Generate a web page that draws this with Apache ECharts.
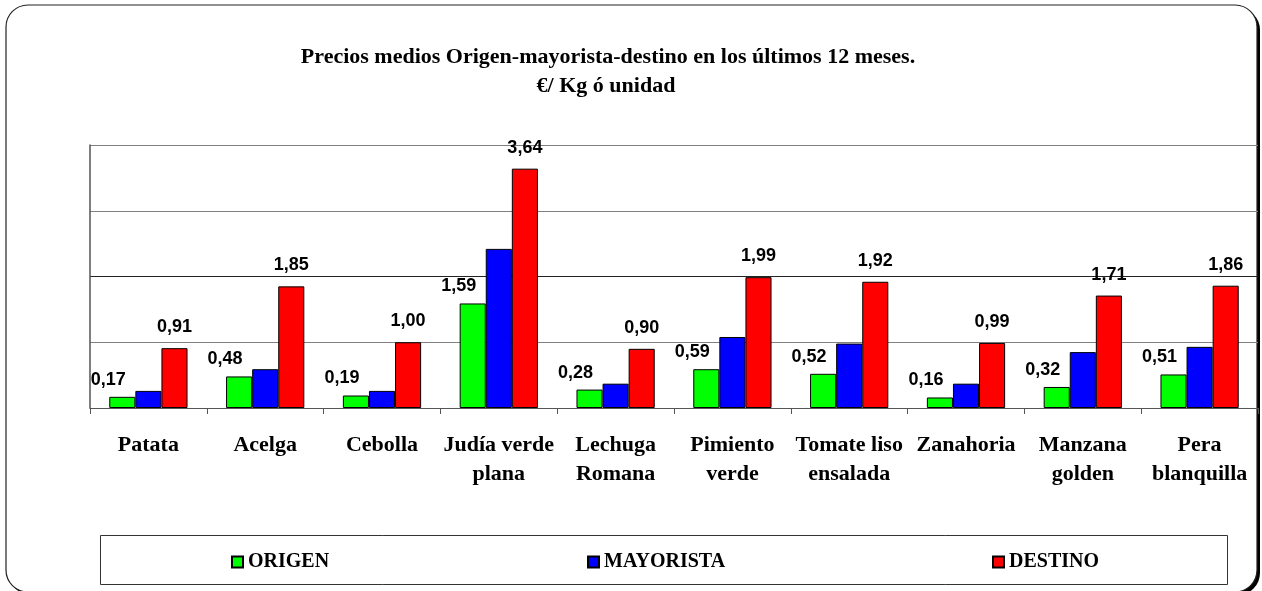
<!DOCTYPE html>
<html>
<head>
<meta charset="utf-8">
<script src="https://cdn.jsdelivr.net/npm/echarts@6/dist/echarts.min.js"></script>
<style>
  html, body { margin: 0; padding: 0; background: #fff; }
  #chart { width: 1262px; height: 591px; }
</style>
</head>
<body>
<div id="chart"></div>
<script>
// Average prices (€/kg or unit) over the last 12 months
const categories = [
  'Patata', 'Acelga', 'Cebolla', 'Judía verde\nplana', 'Lechuga\nRomana',
  'Pimiento\nverde', 'Tomate liso\nensalada', 'Zanahoria', 'Manzana\ngolden', 'Pera\nblanquilla'
];
const origen    = [0.17, 0.48, 0.19, 1.59, 0.28, 0.59, 0.52, 0.16, 0.32, 0.51];
const mayorista = [0.26, 0.59, 0.26, 2.42, 0.37, 1.08, 0.98, 0.37, 0.85, 0.93];
const destino   = [0.91, 1.85, 1.00, 3.64, 0.90, 1.99, 1.92, 0.99, 1.71, 1.86];
const seriesNames = ['ORIGEN', 'MAYORISTA', 'DESTINO'];
const titleLines = [
  'Precios medios Origen-mayorista-destino en los últimos 12 meses.',
  '€/ Kg ó unidad'
];

const serif = "'Liberation Serif', 'Times New Roman', serif";
const sans = "'Liberation Sans', Arial, sans-serif";
const fmt = p => p.value.toFixed(2).replace('.', ',');

const legendText = { fontFamily: serif, fontWeight: 'bold', fontSize: 20, color: '#000' };
const legendAt = (name, left) => ({
  data: [name], left: left, top: 547,
  itemWidth: 11, itemHeight: 11, icon: 'rect',
  textStyle: legendText
});

const chart = echarts.init(document.getElementById('chart'), null, { renderer: 'canvas' });

chart.setOption({
  backgroundColor: '#fff',
  animation: false,
  graphic: [
    // outer rounded frame with a hard drop shadow
    {
      type: 'rect', z: -12, silent: true,
      shape: { x: 9, y: 8, width: 1251, height: 587, r: 22 },
      style: { fill: '#000' }
    },
    {
      type: 'rect', z: -11, silent: true,
      shape: { x: 6, y: 5, width: 1251, height: 587, r: 22 },
      style: { fill: '#fff', stroke: '#222', lineWidth: 1.2 }
    },
    // legend box
    {
      type: 'rect', z: -5, silent: true,
      shape: { x: 100.5, y: 535.5, width: 1127, height: 49 },
      style: { fill: '#fff', stroke: '#333', lineWidth: 1 }
    },
    {
      type: 'text', silent: true,
      style: { text: titleLines[0], x: 608, y: 57, textAlign: 'center', textVerticalAlign: 'middle',
               font: 'bold 22px ' + serif, fill: '#000' }
    },
    {
      type: 'text', silent: true,
      style: { text: titleLines[1], x: 606, y: 86, textAlign: 'center', textVerticalAlign: 'middle',
               font: 'bold 22px ' + serif, fill: '#000' }
    }
  ],
  legend: [
    legendAt(seriesNames[0], 226),
    legendAt(seriesNames[1], 582),
    legendAt(seriesNames[2], 987)
  ],
  grid: { left: 90, right: 4, top: 145, bottom: 183, containLabel: false },
  xAxis: {
    type: 'category',
    data: categories,
    axisLine: { lineStyle: { color: '#555', width: 1 } },
    axisTick: { show: true, length: 6, lineStyle: { color: '#555' } },
    axisLabel: {
      interval: 0, margin: 23,
      fontFamily: serif, fontWeight: 'bold', fontSize: 22, lineHeight: 29, color: '#000'
    }
  },
  yAxis: {
    type: 'value',
    min: 0, max: 4, interval: 1,
    axisLabel: { show: false },
    axisTick: { show: false },
    axisLine: { show: true, lineStyle: { color: '#555', width: 1.5 } },
    splitLine: { lineStyle: { color: ['#808080', '#808080', '#222', '#808080', '#808080'], width: 1 } }
  },
  series: [
    {
      name: seriesNames[0], type: 'bar', data: origen,
      barGap: '0%', barCategoryGap: '33%',
      itemStyle: { color: '#00ff00', borderColor: '#000', borderWidth: 1 },
      label: { show: true, position: 'top', distance: 8, offset: [-14, 0], formatter: fmt,
               fontFamily: sans, fontWeight: 'bold', fontSize: 18, color: '#000' }
    },
    {
      name: seriesNames[1], type: 'bar', data: mayorista,
      barGap: '0%', barCategoryGap: '33%',
      itemStyle: { color: '#0000ff', borderColor: '#000', borderWidth: 1 }
    },
    {
      name: seriesNames[2], type: 'bar', data: destino,
      barGap: '0%', barCategoryGap: '33%',
      itemStyle: { color: '#ff0000', borderColor: '#000', borderWidth: 1 },
      label: { show: true, position: 'top', distance: 12, formatter: fmt,
               fontFamily: sans, fontWeight: 'bold', fontSize: 18, color: '#000' }
    }
  ]
});
</script>
</body>
</html>
